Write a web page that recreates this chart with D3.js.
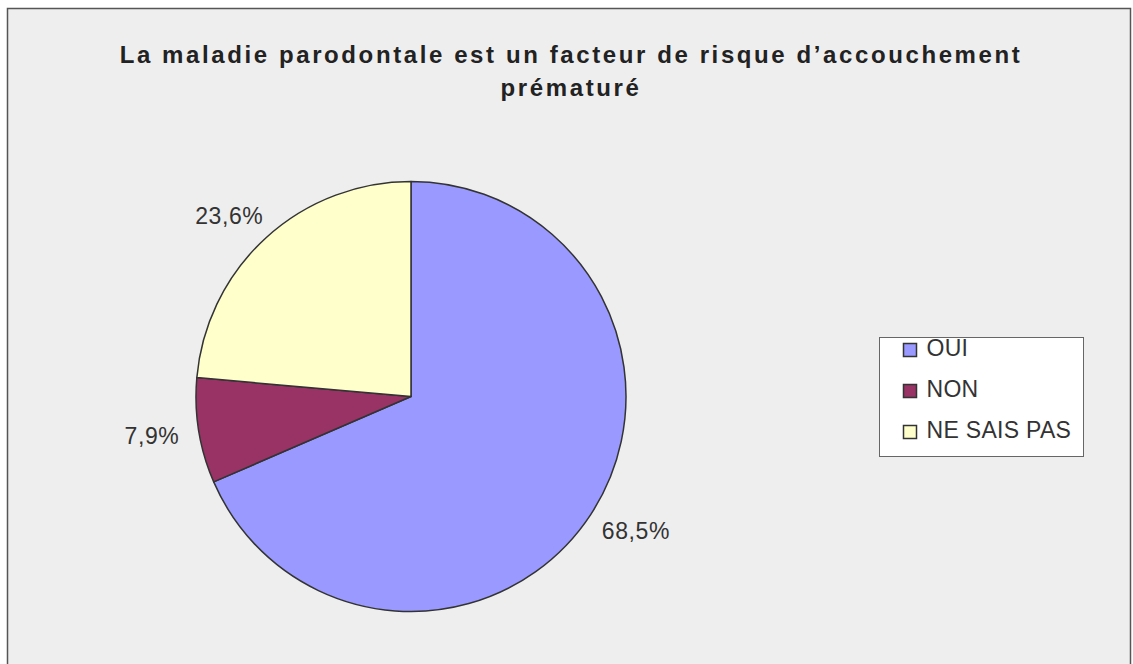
<!DOCTYPE html>
<html>
<head>
<meta charset="utf-8">
<script src="https://cdn.jsdelivr.net/npm/d3@7"></script>
<style>
  html, body { margin: 0; padding: 0; background: #fff; }
  svg { display: block; font-family: "Liberation Sans", Arial, sans-serif; }
</style>
</head>
<body>
<div id="chart"></div>
<script>
const titleLines = ["La maladie parodontale est un facteur de risque d\u2019accouchement", "prématuré"];
const categories = ["OUI", "NON", "NE SAIS PAS"];
const values = [68.5, 7.9, 23.6];
const colors = ["#9999ff", "#993366", "#ffffcc"];

const width = 1133, height = 664;
const cx = 411, cy = 396.5, radius = 215;

const svg = d3.select("#chart").append("svg")
  .attr("width", width)
  .attr("height", height)
  .attr("viewBox", [0, 0, width, height]);

// chart area frame
svg.append("rect")
  .attr("x", 7.5).attr("y", 8.5)
  .attr("width", 1123).attr("height", 670)
  .attr("fill", "#eeeeee")
  .attr("stroke", "#555")
  .attr("stroke-width", 1.5);

// title
svg.append("g")
  .selectAll("text")
  .data(titleLines)
  .join("text")
  .attr("x", 571)
  .attr("y", (d, i) => 63 + i * 33)
  .attr("text-anchor", "middle")
  .attr("font-size", 24)
  .attr("font-weight", "bold")
  .attr("letter-spacing", 2.6)
  .attr("fill", "#222")
  .text(d => d);

const color = d3.scaleOrdinal().domain(categories).range(colors);

const pie = d3.pie().sort(null).value(d => d.value);
const data = pie(categories.map((c, i) => ({ name: c, value: values[i] })));

const arc = d3.arc().innerRadius(0).outerRadius(radius);

const g = svg.append("g").attr("transform", `translate(${cx},${cy})`);

g.selectAll("path")
  .data(data)
  .join("path")
  .attr("d", arc)
  .attr("fill", d => color(d.data.name))
  .attr("stroke", "#333")
  .attr("stroke-width", 1.5)
  .attr("stroke-linejoin", "round");

// percentage labels outside the slices
const fmt = v => d3.format(".1f")(v).replace(".", ",") + "%";
const labelFont = 23, labelOffset = 20;

g.selectAll("text.lbl")
  .data(data)
  .join("text")
  .attr("class", "lbl")
  .attr("font-size", labelFont)
  .attr("letter-spacing", 0.6)
  .attr("fill", "#333")
  .attr("text-anchor", "middle")
  .text(d => fmt(d.data.value))
  .each(function (d) {
    const a = (d.startAngle + d.endAngle) / 2;
    const w = this.getComputedTextLength();
    const h = labelFont * 0.9;
    const px = Math.sin(a) * (radius + labelOffset);
    const py = -Math.cos(a) * (radius + labelOffset);
    const x = px + Math.sin(a) * w / 2;
    const y = py - Math.cos(a) * h / 2;
    d3.select(this).attr("x", x).attr("y", y + labelFont * 0.36);
  });

// legend
const legend = svg.append("g").attr("transform", "translate(879.5,337.5)");
legend.append("rect")
  .attr("width", 204).attr("height", 119)
  .attr("fill", "#fff")
  .attr("stroke", "#666")
  .attr("stroke-width", 1);

const item = legend.selectAll("g.item")
  .data(categories)
  .join("g")
  .attr("class", "item")
  .attr("transform", (d, i) => `translate(24,${6 + i * 41})`);

item.append("rect")
  .attr("width", 13).attr("height", 13)
  .attr("fill", d => color(d))
  .attr("stroke", "#333")
  .attr("stroke-width", 1.5);

item.append("text")
  .attr("x", 23)
  .attr("y", 12)
  .attr("font-size", 23)
  .attr("letter-spacing", 0.3)
  .attr("fill", "#333")
  .text(d => d);
</script>
</body>
</html>
